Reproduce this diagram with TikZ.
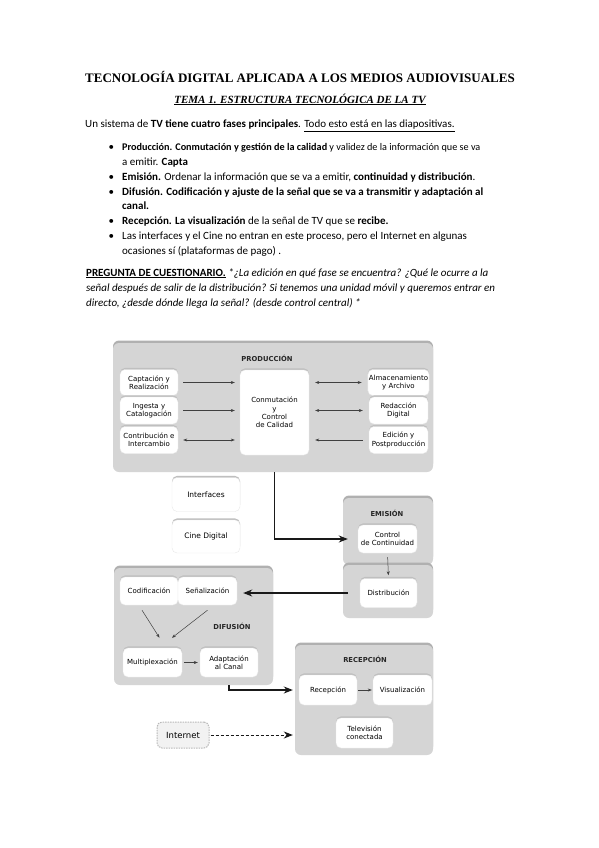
\documentclass[tikz,border=0pt]{standalone}
\usepackage{fontspec}
\setmainfont{Carlito}
\newfontfamily\serifo{Liberation Serif}
\newfontfamily\diag{DejaVu Sans}
\usetikzlibrary{arrows.meta,shadows}

\tikzset{
  fase/.style={fill=gray!33, rounded corners=6pt, general shadow={shadow yshift=2.5pt, fill=gray!62}},
  caja/.style={fill=white, draw=gray!18, rounded corners=5pt, align=center, inner sep=1pt,
    font=\diag\fontsize{7}{8.3}\selectfont, general shadow={shadow yshift=1.6pt, fill=gray!50}},
  titulofase/.style={font=\diag\bfseries\fontsize{6.8}{8}\selectfont, text=black!85},
  flecha/.style={-{Stealth[length=4pt,width=3pt]}, black!75, line width=0.5pt},
  dobleflecha/.style={{Stealth[length=4pt,width=3pt]}-{Stealth[length=4pt,width=3pt]}, black!75, line width=0.5pt},
  enlace/.style={-{Stealth[length=9pt,width=7pt]}, black!90, line width=1.3pt},
  linea/.style={anchor=base west, inner sep=0pt, font=\fontsize{11}{13}\selectfont},
}

\begin{document}
\begin{tikzpicture}[x=1pt,y=-1pt]
      \fill[white] (0,0) rectangle (599,848);
      \useasboundingbox (0,0) rectangle (599,848);

      % encabezado
      \node[anchor=base, inner sep=0pt, font=\serifo\bfseries\fontsize{13}{15}\selectfont] (titulo) at (300,82.5) {TECNOLOGÍA DIGITAL APLICADA A LOS MEDIOS AUDIOVISUALES};
      \node[anchor=base, inner sep=0pt, font=\serifo\bfseries\itshape\fontsize{11}{13}\selectfont] (tema) at (300,103) {\underline{TEMA 1. ESTRUCTURA TECNOLÓGICA DE LA TV}};

      \node[linea] (intro) at (85,128) {Un sistema de \textbf{TV tiene cuatro fases principales}. \underline{Todo esto está en las diapositivas.}};

      \node[linea, font=\fontsize{10.2}{12}\selectfont] (p1) at (122,150) {\textbf{Producción. Conmutación y gestión de la calidad} y validez de la información que se va};
      \node[linea] (p1b) at (122,165) {a emitir. \textbf{Capta}};
      \node[linea] (p2) at (122,180) {\textbf{Emisión.} Ordenar la información que se va a emitir, \textbf{continuidad y distribución}.};
      \node[linea] (p3) at (122,195) {\textbf{Difusión. Codificación y ajuste de la señal que se va a transmitir y adaptación al}};
      \node[linea] (p3b) at (122,209.5) {\textbf{canal.}};
      \node[linea] (p4) at (122,224.5) {\textbf{Recepción. La visualización} de la señal de TV que se \textbf{recibe.}};
      \node[linea] (p5) at (122,239.5) {Las interfaces y el Cine no entran en este proceso, pero el Internet en algunas};
      \node[linea] (p5b) at (122,254.5) {ocasiones sí (plataformas de pago) .};
      \node[linea] at (108.5,150) {•};
      \node[linea] at (108.5,180) {•};
      \node[linea] at (108.5,195) {•};
      \node[linea] at (108.5,224.5) {•};
      \node[linea] at (108.5,239.5) {•};

      \node[linea] (q1) at (86,276) {\underline{\textbf{PREGUNTA DE CUESTIONARIO.}} \textit{*¿La edición en qué fase se encuentra? ¿Qué le ocurre a la}};
      \node[linea] (q2) at (86,291) {\textit{señal después de salir de la distribución? Si tenemos una unidad móvil y queremos entrar en}};
      \node[linea] (q3) at (86,306) {\textit{directo, ¿desde dónde llega la señal? (desde control central) *}};

      % produccion
      \node[fase, minimum width=320, minimum height=129] (prod) at (273,407.5) {};
      \node[titulofase] (prodtit) at (267,358) {PRODUCCIÓN};
      \node[caja, minimum width=58, minimum height=26] (captacion) at (149,382.5) {Captación y\\Realización};
      \node[caja, minimum width=58, minimum height=27] (ingesta) at (149,410.5) {Ingesta y\\Catalogación};
      \node[caja, minimum width=58, minimum height=27] (contrib) at (149,440) {Contribución e\\Intercambio};
      \node[caja, minimum width=69, minimum height=85] (conmut) at (274.5,412.5) {Conmutación\\y\\Control\\de Calidad};
      \node[caja, minimum width=59, minimum height=26] (almacen) at (398.5,382.5) {Almacenamiento\\y Archivo};
      \node[caja, minimum width=59, minimum height=27] (redaccion) at (398.5,410.5) {Redacción\\Digital};
      \node[caja, minimum width=59, minimum height=27] (edicion) at (398.5,440) {Edición y\\Postproducción};

      \draw[flecha, shorten <=5pt, shorten >=5pt] (captacion.east) -- (captacion.east -| conmut.west);
      \draw[flecha, shorten <=5pt, shorten >=5pt] (ingesta.east) -- (ingesta.east -| conmut.west);
      \draw[dobleflecha, shorten <=5pt, shorten >=5pt] (contrib.east) -- (contrib.east -| conmut.west);
      \draw[dobleflecha, shorten <=6pt, shorten >=6pt] (almacen.west -| conmut.east) -- (almacen.west);
      \draw[dobleflecha, shorten <=6pt, shorten >=6pt] (redaccion.west -| conmut.east) -- (redaccion.west);
      \draw[flecha, shorten <=6pt, shorten >=6pt] (edicion.west) -- (edicion.west -| conmut.east);

      % interfaces y cine
      \node[caja, minimum width=68, minimum height=34, font=\diag\fontsize{7.5}{9}\selectfont] (interfaces) at (206,494.5) {Interfaces};
      \node[caja, minimum width=68, minimum height=33, font=\diag\fontsize{7.5}{9}\selectfont] (cine) at (206,536.5) {Cine Digital};

      % emision
      \node[fase, minimum width=90, minimum height=67] (emision) at (388,531.5) {};
      \node[fase, minimum width=90, minimum height=53] (emision2) at (388,591.5) {};
      \node[titulofase] (emitit) at (387,513) {EMISIÓN};
      \node[caja, minimum width=59, minimum height=28] (control) at (387.5,539) {Control\\de Continuidad};
      \node[caja, minimum width=57, minimum height=29] (distrib) at (388.5,593) {Distribución};
      \draw[flecha, shorten <=4pt, shorten >=3pt] (control.south) -- (distrib.north);

      \draw[enlace, shorten >=10pt] (conmut.south |- prod.south) |- (control.west);

      % difusion
      \node[fase, minimum width=159, minimum height=117] (difusion) at (193.5,626.5) {};
      \node[caja, minimum width=58, minimum height=28] (codif) at (149,591) {Codificación};
      \node[caja, minimum width=59, minimum height=28] (senal) at (207.5,591) {Señalización};
      \node[titulofase] (diftit) at (232,626) {DIFUSIÓN};
      \node[caja, minimum width=59, minimum height=29] (multiplex) at (152.5,662.5) {Multiplexación};
      \node[caja, minimum width=58, minimum height=29] (adapt) at (229,662.5) {Adaptación\\al Canal};
      \draw[flecha] ([shift={(-7,5)}]codif.south) -- ([shift={(7,-10)}]multiplex.north);
      \draw[flecha] ([shift={(0,5)}]senal.south) -- ([shift={(19.5,-10)}]multiplex.north);
      \draw[flecha, shorten <=2pt, shorten >=2pt] (multiplex.east) -- (adapt.west);

      \draw[enlace, shorten <=12pt, shorten >=6pt] (distrib.west) -- (distrib.west -| senal.east);

      % recepcion
      \node[fase, minimum width=138, minimum height=110] (recepcion) at (364,700) {};
      \node[titulofase] (rectit) at (365,659) {RECEPCIÓN};
      \node[caja, minimum width=58, minimum height=30] (recep) at (328,690) {Recepción};
      \node[caja, minimum width=59, minimum height=30] (visual) at (402.5,690) {Visualización};
      \node[caja, minimum width=57, minimum height=30] (tele) at (364.5,733) {Televisión\\conectada};
      \draw[flecha, shorten <=1pt, shorten >=1pt] (recep.east) -- (visual.west);

      \draw[enlace, shorten >=6pt] (adapt.south |- difusion.south) |- (recep.west);

      % internet
      \node[fill=gray!10, draw=gray!55, line width=1pt, dash pattern=on 1.5pt off 1pt, rounded corners=5pt,
        minimum width=52, minimum height=26, font=\diag\fontsize{8.5}{10}\selectfont] (internet) at (183,735) {Internet};
      \draw[enlace, line width=1pt, dash pattern=on 3pt off 2pt, shorten <=1pt, shorten >=2pt] (internet.east) -- (internet.east -| recepcion.west);
    \end{tikzpicture}
\end{document}
